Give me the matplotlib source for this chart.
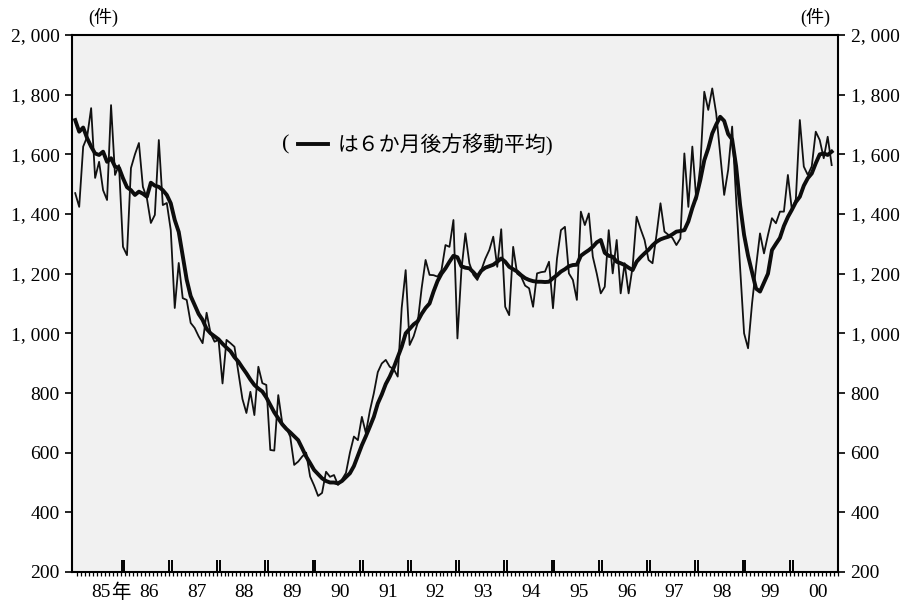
import numpy as np
import matplotlib
matplotlib.use("Agg")
import matplotlib.pyplot as plt
from matplotlib.ticker import FuncFormatter
from matplotlib.transforms import blended_transform_factory

# monthly counts, Jan 1985 .. Nov 2000
raw = [
    1470, 1424, 1626, 1659, 1755, 1521, 1575, 1480, 1447, 1765, 1531, 1564,   # 85
    1290, 1262, 1554, 1600, 1638, 1491, 1453, 1370, 1397, 1648, 1430, 1437,   # 86
    1346, 1085, 1236, 1118, 1112, 1035, 1018, 990, 967, 1069, 1000, 972,      # 87
    978, 832, 978, 967, 955, 867, 780, 733, 804, 726, 888, 833,               # 88
    827, 609, 607, 793, 699, 683, 654, 559, 570, 587, 600, 520,               # 89
    490, 455, 465, 536, 519, 525, 492, 510, 532, 600, 654, 642,               # 90
    720, 666, 740, 799, 870, 899, 911, 888, 880, 855, 1085, 1212,             # 91
    961, 990, 1034, 1150, 1246, 1196, 1195, 1190, 1212, 1296, 1290, 1380,     # 92
    983, 1212, 1335, 1235, 1196, 1179, 1212, 1250, 1279, 1324, 1223, 1349,    # 93
    1089, 1061, 1290, 1200, 1190, 1160, 1151, 1089, 1201, 1205, 1207, 1240,   # 94
    1084, 1250, 1346, 1357, 1201, 1179, 1112, 1408, 1363, 1402, 1257, 1200,   # 95
    1134, 1156, 1346, 1201, 1313, 1134, 1235, 1134, 1223, 1391, 1350, 1313,   # 96
    1246, 1235, 1330, 1436, 1341, 1330, 1320, 1296, 1318, 1603, 1424, 1626,   # 97
    1447, 1560, 1810, 1749, 1821, 1737, 1600, 1464, 1548, 1693, 1450, 1220,   # 98
    1000, 950, 1100, 1223, 1335, 1268, 1330, 1386, 1369, 1408, 1408, 1531,    # 99
    1414, 1450, 1715, 1559, 1531, 1560, 1676, 1648, 1587, 1659, 1564,         # 00
]

# 6-month backward moving average as drawn (thick line)
ma6 = [
    1715, 1676, 1690, 1654, 1626, 1603, 1598, 1609, 1575, 1587, 1559, 1555,
    1520, 1490, 1480, 1464, 1475, 1468, 1458, 1505, 1495, 1491, 1480, 1464,
    1436, 1380, 1340, 1260, 1180, 1125, 1095, 1065, 1045, 1015, 1000, 990,
    980, 965, 952, 940, 920, 905, 885, 866, 845, 827, 815, 805,
    785, 760, 735, 715, 695, 680, 668, 655, 642, 615, 587, 565,
    542, 528, 514, 505, 500, 500, 497, 505, 518, 531, 555, 590,
    625, 655, 687, 720, 765, 795, 830, 855, 885, 920, 955, 1000,
    1015, 1030, 1040, 1065, 1085, 1100, 1140, 1175, 1200, 1218, 1240, 1260,
    1255, 1225, 1220, 1218, 1205, 1190, 1210, 1220, 1225, 1230, 1240, 1251,
    1240, 1223, 1215, 1207, 1195, 1185, 1179, 1175, 1173, 1173, 1172, 1173,
    1185, 1195, 1207, 1215, 1225, 1229, 1230, 1260, 1270, 1279, 1290, 1305,
    1313, 1270, 1260, 1257, 1240, 1235, 1229, 1220, 1212, 1240, 1255, 1268,
    1280, 1295, 1307, 1315, 1320, 1324, 1332, 1341, 1343, 1346, 1375, 1420,
    1458, 1514, 1580, 1620, 1670, 1700, 1726, 1712, 1668, 1650, 1560, 1430,
    1330, 1260, 1205, 1150, 1140, 1170, 1200, 1279, 1300, 1320, 1360, 1390,
    1414, 1440, 1458, 1495, 1520, 1536, 1570, 1600, 1603, 1598, 1609,
]

year_labels = ["85", "86", "87", "88", "89", "90", "91", "92",
               "93", "94", "95", "96", "97", "98", "99", "00"]
y_ticks = [200, 400, 600, 800, 1000, 1200, 1400, 1600, 1800, 2000]

plt.rcParams['font.family'] = ['Liberation Serif', 'Noto Sans CJK JP']

months = np.arange(len(raw))

fig = plt.figure(figsize=(9.06, 6.04), dpi=100)
ax = fig.add_axes([0.0795, 0.053, 0.8455, 0.889])
ax.set_facecolor('#f1f1f1')

ax.plot(months, raw, color='#111111', lw=1.3)
ax.plot(months, ma6, color='#0d0d0d', lw=2.8, solid_joinstyle='round')

ax.set_xlim(-0.8, 191.6)
ax.set_ylim(200, 2000)

ax.set_yticks(y_ticks)
ax.yaxis.set_major_formatter(FuncFormatter(lambda v, p: f"{int(v):,}".replace(",", ", ")))
ax.tick_params(axis='y', left=True, right=True, labelleft=True, labelright=True,
               direction='out', length=5, width=1.2, labelsize=14, pad=4)

# double marks at each January, small marks for months
jan = np.arange(12, 192, 12)
ax.set_xticks(np.concatenate([jan - 0.35, jan + 0.35]))
ax.set_xticklabels([])
ax.set_xticks(np.arange(0, 192) + 0.5, minor=True)
ax.tick_params(axis='x', which='major', direction='in', length=9, width=1.4)
ax.tick_params(axis='x', which='minor', direction='out', length=3, width=0.9)

trans = blended_transform_factory(ax.transData, ax.transAxes)
for k, lab in enumerate(year_labels):
    ax.text(12 * k + 6.5, -0.022, lab, transform=trans, ha='center', va='top', fontsize=14)
ax.annotate("年", xy=(6.5, -0.022), xycoords=trans, xytext=(7, 0),
            textcoords='offset points', ha='left', va='top', fontsize=14)

for s in ax.spines.values():
    s.set_linewidth(1.5)

# units
fig.text(0.097, 0.962, "(件)", fontsize=13)
fig.text(0.883, 0.962, "(件)", fontsize=13)

# in-chart note
ax.text(0.274, 0.795, "(", transform=ax.transAxes, fontsize=16, va='center')
ax.plot([0.295, 0.334], [0.797, 0.797], transform=ax.transAxes, color='#0d0d0d', lw=2.8)
ax.text(0.347, 0.795, "は６か月後方移動平均)", transform=ax.transAxes, fontsize=15, va='center')

fig.savefig("out.png", dpi=100)
